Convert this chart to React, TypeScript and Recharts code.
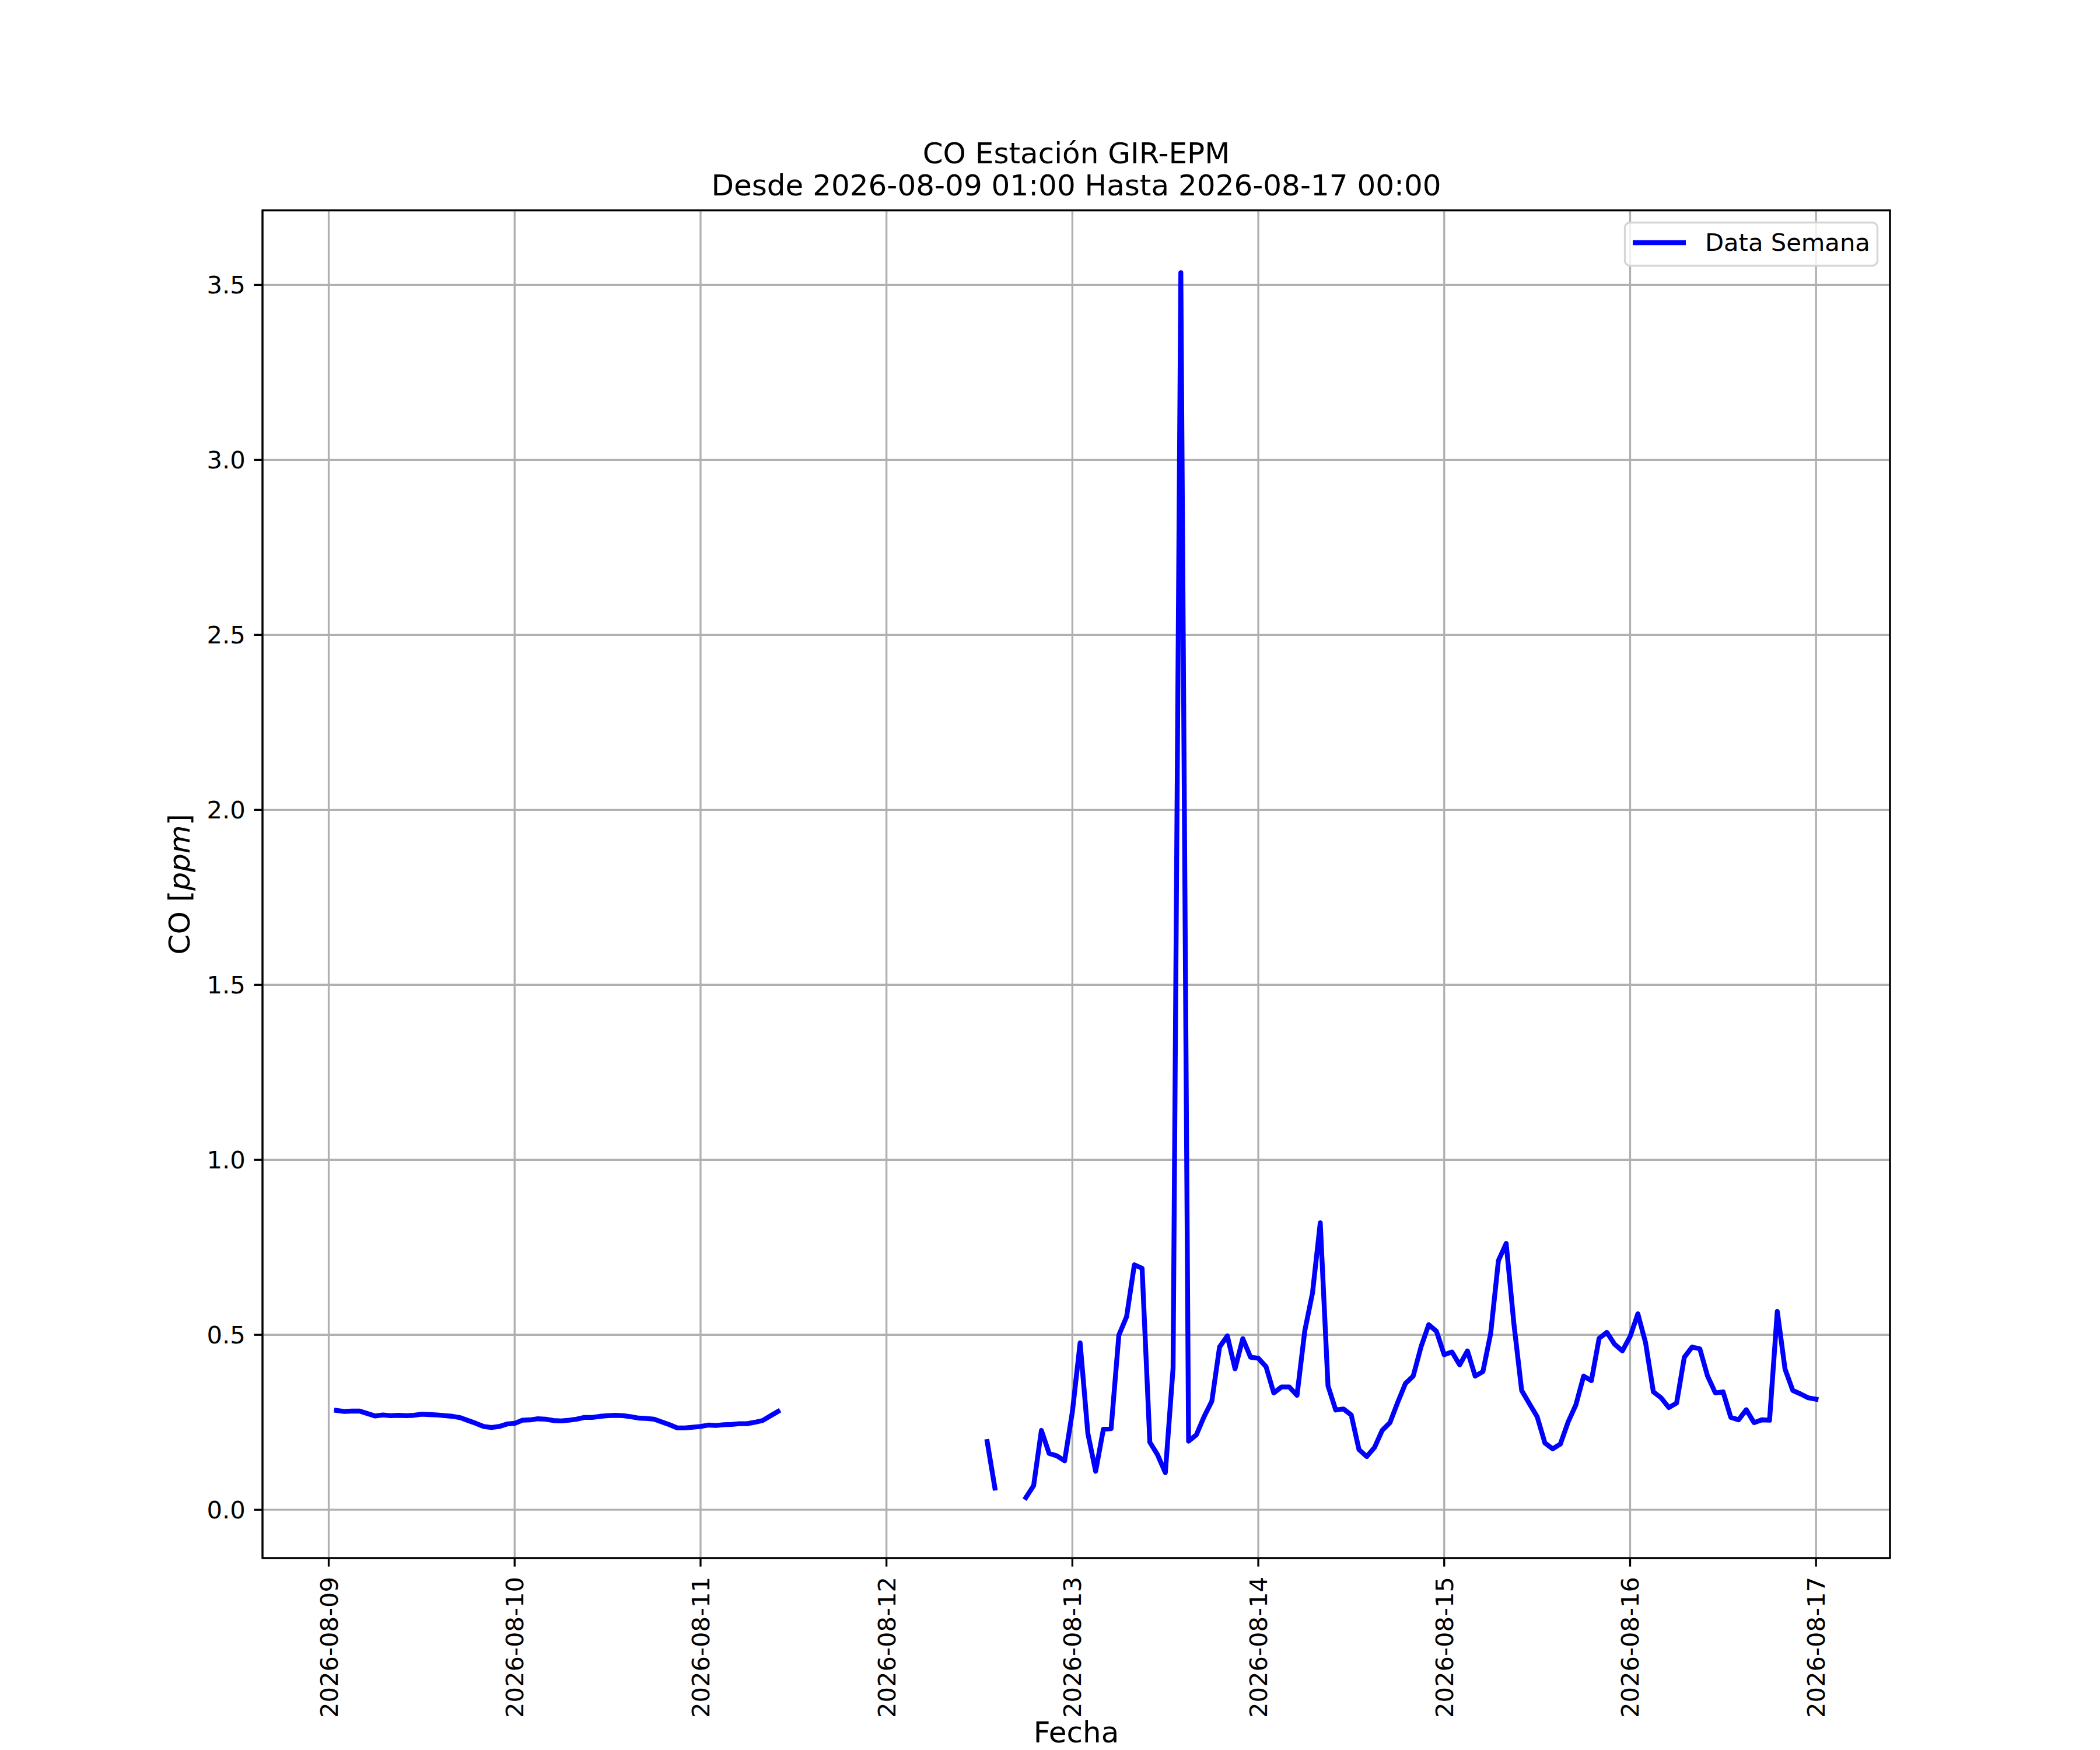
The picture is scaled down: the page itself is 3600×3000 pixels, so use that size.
import React from "react";
import { LineChart, Line, XAxis, YAxis, CartesianGrid, Customized } from "recharts";

// hourly CO readings, ppm (null = no data)
const co0809 = [
  0.284, 0.281, 0.282, 0.282, 0.275, 0.268, 0.271, 0.269, 0.27, 0.269, 0.27, 0.273,
  0.272, 0.271, 0.269, 0.267, 0.263, 0.255, 0.247, 0.238, 0.235, 0.238, 0.245,
]; // 01:00 - 23:00
const co0810 = [
  0.247, 0.256, 0.257, 0.26, 0.259, 0.255, 0.254, 0.256, 0.259, 0.264, 0.264, 0.267,
  0.269, 0.27, 0.269, 0.266, 0.262, 0.261, 0.259, 0.251, 0.243, 0.234, 0.234, 0.236,
];
const co0811 = [
  0.238, 0.242, 0.241, 0.243, 0.244, 0.246, 0.246, 0.25, 0.255, 0.268, 0.281, null,
  null, null, null, null, null, null, null, null, null, null, null, null,
];
const co0812 = [
  null, null, null, null, null, null, null, null, null, null, null, null,
  null, 0.195, 0.062, null, null, null, 0.035, 0.069, 0.227, 0.161, 0.154, 0.14,
];
const co0813 = [
  0.28, 0.477, 0.218, 0.11, 0.23, 0.232, 0.499, 0.552, 0.7, 0.69, 0.193, 0.157,
  0.106, 0.405, 3.535, 0.196, 0.214, 0.266, 0.31, 0.465, 0.497, 0.403, 0.489, 0.436,
];
const co0814 = [
  0.433, 0.409, 0.334, 0.351, 0.351, 0.327, 0.511, 0.62, 0.82, 0.354, 0.285, 0.288,
  0.271, 0.172, 0.152, 0.178, 0.227, 0.249, 0.307, 0.361, 0.382, 0.465, 0.529, 0.51,
];
const co0815 = [
  0.443, 0.451, 0.414, 0.454, 0.382, 0.395, 0.504, 0.712, 0.761, 0.531, 0.341, 0.303,
  0.266, 0.191, 0.174, 0.188, 0.251, 0.3, 0.382, 0.369, 0.49, 0.507, 0.473, 0.454,
];
const co0816 = [
  0.495, 0.56, 0.477, 0.337, 0.32, 0.292, 0.305, 0.436, 0.465, 0.46, 0.382, 0.334,
  0.337, 0.264, 0.257, 0.286, 0.249, 0.257, 0.256, 0.567, 0.402, 0.341, 0.331, 0.32,
];
const co0817 = [0.316]; // 00:00

const dayLabels = [
  "2026-08-09", "2026-08-10", "2026-08-11", "2026-08-12", "2026-08-13",
  "2026-08-14", "2026-08-15", "2026-08-16", "2026-08-17",
];
const yTicks = [0, 0.5, 1, 1.5, 2, 2.5, 3, 3.5];

// hours counted from 2026-08-09 00:00
const series = [co0809, co0810, co0811, co0812, co0813, co0814, co0815, co0816, co0817];
const data: { t: number; co: number | null }[] = [];
series.forEach((vals, d) => {
  const first = d === 0 ? 1 : 0;
  vals.forEach((v, i) => data.push({ t: d * 24 + first + i, co: v }));
});
const tStart = data[0].t;
const tEnd = data[data.length - 1].t;
const pad = (tEnd - tStart) * 0.05;
const xTicks = dayLabels.map((_, i) => i * 24);

const W = 3600;
const H = 3000;
const M = { top: 360.6, right: 360, bottom: 0, left: 300 };
const Y_AXIS_W = 150;
const X_AXIS_H = 329;
const plotL = M.left + Y_AXIS_W;
const plotT = M.top;
const plotW = W - plotL - M.right;
const plotH = H - M.top - X_AXIS_H;

const FONT = "DejaVu Sans";
const TICK_FS = 41.67;
const LABEL_FS = 50;

function XTick({ x, y, payload }: any) {
  const tx = x + 15;
  return (
    <text x={tx} y={y} transform={`rotate(-90 ${tx} ${y})`} textAnchor="end"
      fontSize={TICK_FS} fontFamily={FONT} fill="#000">
      {dayLabels[Math.round(payload.value / 24)]}
    </text>
  );
}

function YTick({ x, y, payload }: any) {
  return (
    <text x={x} y={y} dy="0.36em" textAnchor="end" fontSize={TICK_FS} fontFamily={FONT} fill="#000">
      {payload.value.toFixed(1)}
    </text>
  );
}

function Decorations() {
  const cx = plotL + plotW / 2;
  const cy = plotT + plotH / 2;
  return (
    <g fontFamily={FONT} fill="#000">
      <rect x={plotL} y={plotT} width={plotW} height={plotH} fill="none" stroke="#000" strokeWidth={3.33} />
      <text x={cx} y={280} textAnchor="middle" fontSize={LABEL_FS}>CO Estación GIR-EPM</text>
      <text x={cx} y={335} textAnchor="middle" fontSize={LABEL_FS}>
        Desde 2026-08-09 01:00 Hasta 2026-08-17 00:00
      </text>
      <text x={cx} y={2987} textAnchor="middle" fontSize={LABEL_FS}>Fecha</text>
      <text x={325} y={cy} transform={`rotate(-90 325 ${cy})`} textAnchor="middle" fontSize={LABEL_FS}>
        CO [<tspan fontStyle="italic">ppm</tspan>]
      </text>
      <rect x={2785.5} y={381.5} width={433} height={74} rx={9} ry={9}
        fill="rgba(255,255,255,0.8)" stroke="#d6d6d6" strokeWidth={3.33} />
      <line x1={2799} x2={2890} y1={416} y2={416} stroke="#0000ff" strokeWidth={8.33} />
      <text x={2923} y={430} fontSize={TICK_FS}>Data Semana</text>
    </g>
  );
}

export default function App() {
  return (
    <div style={{ position: "absolute", left: 0, top: 0, width: W, height: H, background: "#fff" }}>
      <LineChart width={W} height={H} data={data} margin={M}>
        <CartesianGrid stroke="#b0b0b0" strokeWidth={3.33} />
        <XAxis dataKey="t" type="number" domain={[tStart - pad, tEnd + pad]} ticks={xTicks}
          allowDataOverflow height={X_AXIS_H} axisLine={false}
          tickLine={{ stroke: "#000", strokeWidth: 3.33 }} tickSize={14.6} tickMargin={17.4}
          tick={<XTick />} interval={0} />
        <YAxis type="number" domain={[-0.138, 3.713]} ticks={yTicks} allowDataOverflow
          width={Y_AXIS_W} axisLine={false}
          tickLine={{ stroke: "#000", strokeWidth: 3.33 }} tickSize={14.6} tickMargin={14.6}
          tick={<YTick />} interval={0} />
        <Line type="linear" dataKey="co" stroke="#0000ff" strokeWidth={8.33} dot={false}
          activeDot={false} connectNulls={false} strokeLinejoin="round" strokeLinecap="square"
          isAnimationActive={false} />
        <Customized component={Decorations} />
      </LineChart>
    </div>
  );
}
